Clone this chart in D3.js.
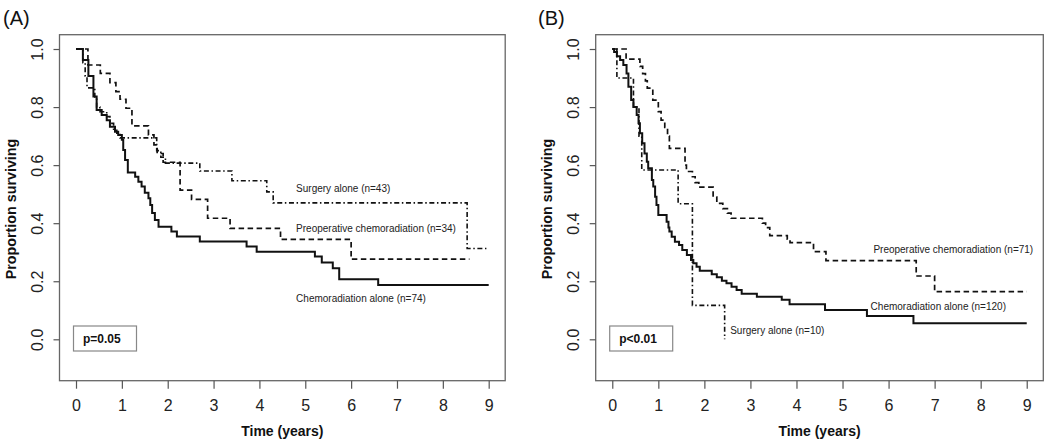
<!DOCTYPE html>
<html><head><meta charset="utf-8">
<script src="https://cdn.jsdelivr.net/npm/d3@7"></script>
<style>
body{margin:0;background:#fff}
svg{display:block}
text{font-family:"Liberation Sans",Arial,Helvetica,sans-serif}
</style>
</head><body>
<svg id="chart" width="1050" height="445"></svg>
<script>
// ---------- data ----------
const timeTicks = [0,1,2,3,4,5,6,7,8,9];
const survTicks = [0,0.2,0.4,0.6,0.8,1.0];
const survTickLabels = ["0.0","0.2","0.4","0.6","0.8","1.0"];
const panelLabels = ["(A)","(B)"];
const pValues = ["p=0.05","p<0.01"];
const xTitle = "Time (years)";
const yTitle = "Proportion surviving";

const namesA = ["Chemoradiation alone (n=74)","Preoperative chemoradiation (n=34)","Surgery alone (n=43)"];
const namesB = ["Chemoradiation alone (n=120)","Preoperative chemoradiation (n=71)","Surgery alone (n=10)"];

// Panel A
const aChemoTime = [0,0.15,0.27,0.38,0.45,0.56,0.67,0.74,0.85,0.92,1.0,1.03,1.07,1.13,1.29,1.36,1.43,1.5,1.58,1.62,1.66,1.72,1.8,2.08,2.2,2.7,3.72,3.94,5.21,5.36,5.6,5.74,6.59,9.0];
const aChemoSurv = [1,0.962,0.907,0.836,0.79,0.773,0.755,0.732,0.715,0.704,0.687,0.652,0.618,0.575,0.56,0.543,0.526,0.505,0.486,0.463,0.435,0.411,0.388,0.371,0.354,0.337,0.32,0.302,0.285,0.265,0.245,0.207,0.187,0.187];
const aPreopTime = [0,0.26,0.53,0.74,0.87,0.96,1.09,1.22,1.58,1.7,1.77,1.9,2.27,2.52,2.87,3.36,4.46,6.0,8.58];
const aPreopSurv = [1,0.945,0.916,0.884,0.853,0.827,0.796,0.735,0.704,0.67,0.64,0.61,0.514,0.482,0.417,0.382,0.344,0.276,0.276];
const aSurgTime = [0,0.15,0.2,0.24,0.41,0.45,0.52,0.67,0.74,0.82,0.89,0.96,1.76,1.85,1.95,2.7,3.4,4.16,4.3,8.53,8.95];
const aSurgSurv = [1,0.953,0.907,0.866,0.83,0.8,0.784,0.767,0.744,0.72,0.71,0.694,0.65,0.627,0.607,0.58,0.546,0.508,0.47,0.313,0.313];

// Panel B
const bChemoTime = [0,0.04,0.1,0.17,0.24,0.31,0.35,0.41,0.46,0.53,0.57,0.6,0.65,0.7,0.75,0.78,0.86,0.89,0.93,0.96,1.0,1.18,1.22,1.24,1.29,1.36,1.45,1.52,1.62,1.71,1.76,1.83,1.9,2.16,2.27,2.38,2.48,2.59,2.7,2.81,3.14,3.68,3.85,4.62,5.53,6.54,9.0];
const bChemoSurv = [1,0.99,0.975,0.962,0.945,0.916,0.87,0.824,0.8,0.773,0.744,0.71,0.675,0.64,0.612,0.589,0.549,0.526,0.491,0.463,0.428,0.405,0.385,0.371,0.353,0.336,0.325,0.308,0.29,0.273,0.262,0.25,0.236,0.224,0.214,0.202,0.193,0.181,0.17,0.157,0.147,0.136,0.121,0.101,0.08,0.055,0.055];
const bPreopTime = [0,0.3,0.6,0.66,0.72,0.76,0.88,1.0,1.06,1.14,1.2,1.24,1.58,1.61,1.74,1.8,1.88,2.19,2.27,2.4,2.5,2.58,3.26,3.33,3.42,3.8,3.86,4.37,4.64,6.6,7.0,9.0];
const bPreopSurv = [1,0.965,0.94,0.915,0.89,0.865,0.824,0.784,0.755,0.73,0.7,0.658,0.6,0.578,0.56,0.54,0.524,0.49,0.468,0.45,0.435,0.417,0.4,0.385,0.357,0.345,0.333,0.302,0.271,0.218,0.164,0.164];
const bSurgTime = [0,0.1,0.46,0.58,0.64,1.43,1.74,2.44];
const bSurgSurv = [1,0.9,0.8,0.7,0.583,0.467,0.117,0];

// ---------- layout / styles ----------
const svg = d3.select("#chart");
const plotTop = 34.7, plotBottom = 380.7;
const styles = [
  {width:2.0, dash:null},            // chemoradiation alone: solid
  {width:1.7, dash:"5.5,3.5"},       // preoperative: dashed
  {width:1.6, dash:"1.5,2.6,5,2.6"}  // surgery: dot-dash
];
const panels = [
  {left:59.5, right:505.2, label:panelLabels[0], labelX:3, labelY:25, p:pValues[0],
   series:[[aChemoTime,aChemoSurv],[aPreopTime,aPreopSurv],[aSurgTime,aSurgSurv]],
   names:namesA, annot:[[4.8,0.142],[4.8,0.383],[4.8,0.521]]},
  {left:595.7, right:1043.3, label:panelLabels[1], labelX:538, labelY:24.5, p:pValues[1],
   series:[[bChemoTime,bChemoSurv],[bPreopTime,bPreopSurv],[bSurgTime,bSurgSurv]],
   names:namesB, annot:[[5.61,0.113],[5.67,0.308],[2.56,0.032]]}
];

const y = d3.scaleLinear().domain([-0.1426,1.0493]).range([plotBottom,plotTop]);

panels.forEach(P => {
  const x = d3.scaleLinear().domain([-0.36,9.36]).range([P.left,P.right]);
  const g = svg.append("g");

  // frame
  g.append("rect").attr("x",P.left).attr("y",plotTop)
    .attr("width",P.right-P.left).attr("height",plotBottom-plotTop)
    .attr("fill","none").attr("stroke","#666").attr("stroke-width",1.3);

  // x axis
  const xa = g.append("g").attr("transform",`translate(0,${plotBottom})`)
    .call(d3.axisBottom(x).tickValues(timeTicks).tickFormat(d3.format("d")).tickSize(8).tickPadding(11.3));
  xa.select(".domain").remove();
  xa.selectAll("line").attr("stroke","#555").attr("stroke-width",1.2);
  xa.selectAll("text").attr("font-size",16).attr("fill","#222")
    .style("font-family","'Liberation Sans',Arial,sans-serif");

  // y axis
  const ya = g.append("g").attr("transform",`translate(${P.left},0)`)
    .call(d3.axisLeft(y).tickValues(survTicks).tickFormat((d,i)=>survTickLabels[i]).tickSize(6));
  ya.select(".domain").remove();
  ya.selectAll("line").attr("stroke","#555").attr("stroke-width",1.2);
  ya.selectAll("text").attr("x",null).attr("dy","0.36em")
    .attr("transform","translate(-22,0) rotate(-90)")
    .attr("text-anchor","middle").attr("font-size",16).attr("fill","#222")
    .style("font-family","'Liberation Sans',Arial,sans-serif");

  // titles
  g.append("text").attr("x",(P.left+P.right)/2).attr("y",435.5)
    .attr("text-anchor","middle").attr("font-size",14).attr("font-weight","bold")
    .attr("fill","#111").text(xTitle);
  g.append("text").attr("transform",`translate(${P.left-43.5},209) rotate(-90)`)
    .attr("text-anchor","middle").attr("font-size",14.3).attr("font-weight","bold")
    .attr("fill","#111").text(yTitle);

  // panel label
  svg.append("text").attr("x",P.labelX).attr("y",P.labelY)
    .attr("font-size",20).attr("fill","#111").text(P.label);

  // curves
  const line = d3.line().x(d=>x(d[0])).y(d=>y(d[1])).curve(d3.curveStepAfter);
  P.series.forEach((s,i) => {
    const pts = s[0].map((t,k)=>[t,s[1][k]]);
    g.append("path").datum(pts).attr("d",line)
      .attr("fill","none").attr("stroke","#111")
      .attr("stroke-width",styles[i].width)
      .attr("stroke-dasharray",styles[i].dash)
      .attr("stroke-linejoin","miter");
  });

  // annotations
  P.names.forEach((n,i) => {
    g.append("text").attr("x",x(P.annot[i][0])).attr("y",y(P.annot[i][1]))
      .attr("dy","0.35em").attr("font-size",10).attr("fill","#222").text(n);
  });

  // p-value box
  const bx = P.left+14, by = 326;
  g.append("rect").attr("x",bx).attr("y",by).attr("width",63).attr("height",25)
    .attr("fill","#fff").attr("stroke","#888").attr("stroke-width",1.2);
  g.append("text").attr("x",bx+9.5).attr("y",by+12.5).attr("dy","0.35em")
    .attr("font-size",12).attr("font-weight","bold").attr("fill","#111").text(P.p);
});
</script>
</body></html>
